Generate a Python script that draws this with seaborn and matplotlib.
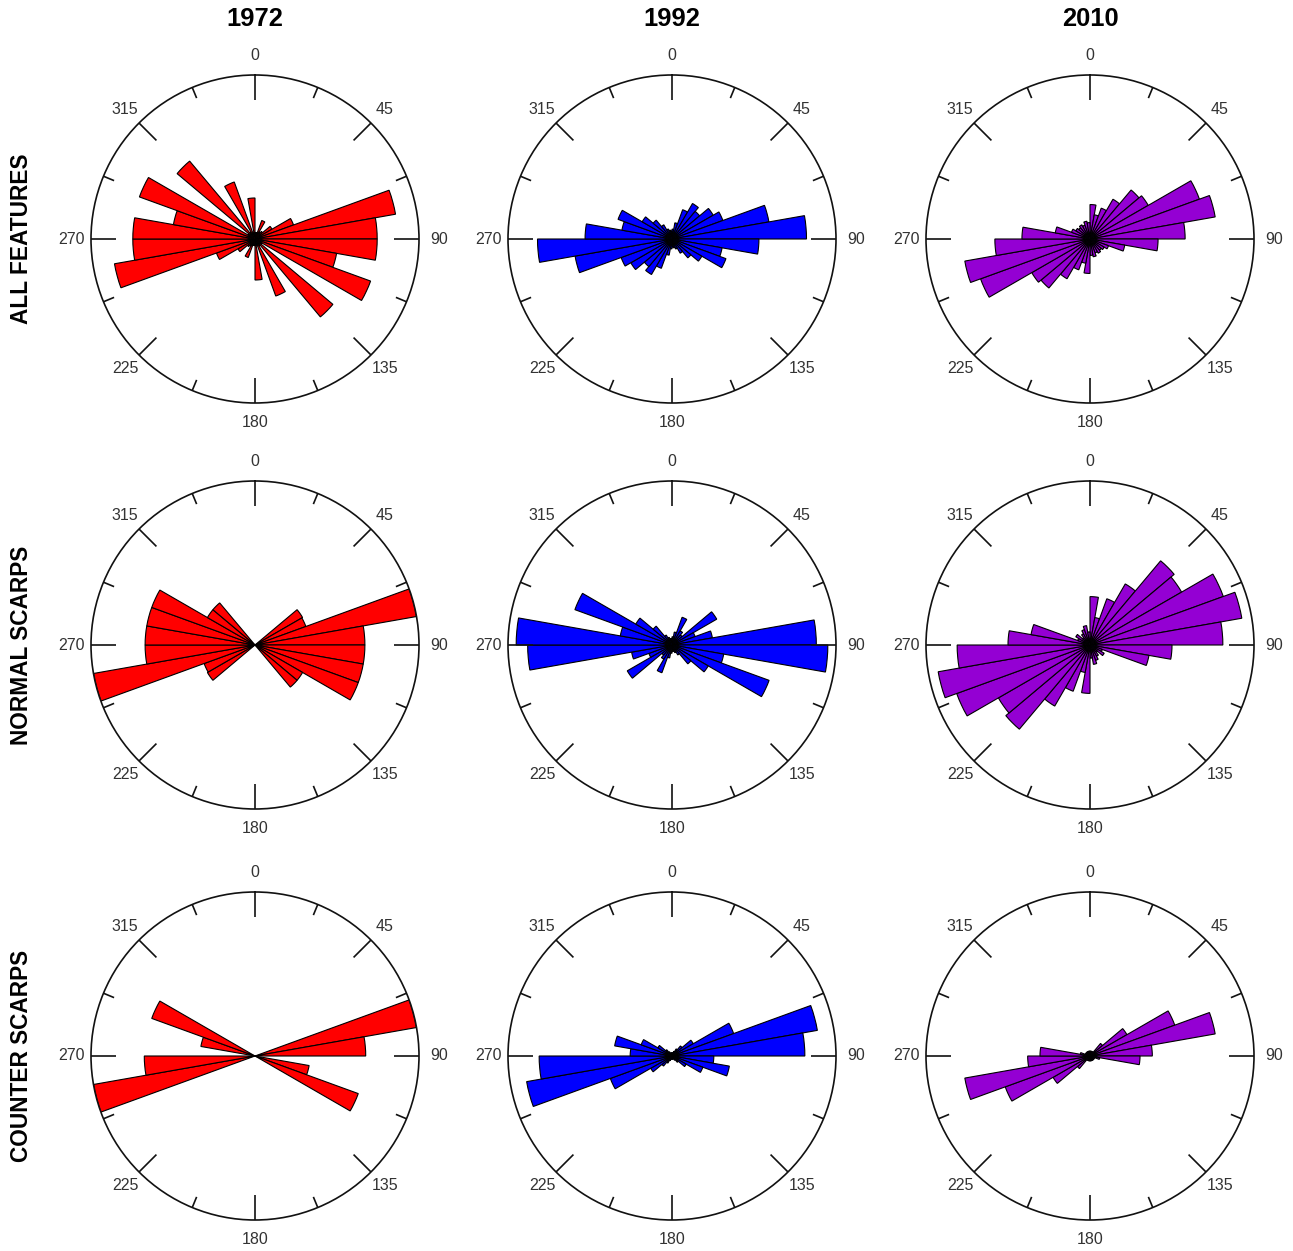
import numpy as np
import pandas as pd
import seaborn as sns
import matplotlib
matplotlib.use("Agg")
import matplotlib.pyplot as plt

years = ["1972", "1992", "2010"]
groups = ["ALL FEATURES", "NORMAL SCARPS", "COUNTER SCARPS"]
year_colors = ["#FF0000", "#0000FF", "#9400D3"]

# strike bins 0-10, 10-20 ... 170-180 deg, radius as fraction of the circle.
# the rose is bidirectional: each bin is drawn again at +180 deg
bin_starts = list(range(0, 180, 10))

all_1972 = [0.04, 0.04, 0.12, 0.05, 0.06, 0.12, 0.25, 0.87, 0.745,
            0.745, 0.505, 0.75, 0.05, 0.62, 0.05, 0.37, 0.04, 0.25]
all_1992 = [0.06, 0.10, 0.19, 0.25, 0.22, 0.29, 0.33, 0.60, 0.82,
            0.53, 0.31, 0.35, 0.21, 0.15, 0.10, 0.065, 0.055, 0.05]
all_2010 = [0.21, 0.15, 0.20, 0.28, 0.39, 0.41, 0.71, 0.775, 0.58,
            0.415, 0.215, 0.12, 0.10, 0.09, 0.10, 0.09, 0.11, 0.10]

normal_1972 = [0, 0, 0, 0, 0, 0.335, 0.33, 1.0, 0.67,
               0.67, 0.67, 0.67, 0.335, 0.335, 0, 0, 0, 0]
normal_1992 = [0.05, 0.08, 0.18, 0.10, 0.08, 0.315, 0.15, 0.25, 0.88,
               0.95, 0.32, 0.63, 0.255, 0.15, 0.07, 0.05, 0.04, 0.04]
normal_2010 = [0.295, 0.17, 0.30, 0.43, 0.67, 0.645, 0.865, 0.94, 0.81,
               0.50, 0.365, 0.08, 0.10, 0.06, 0.08, 0.10, 0.12, 0.08]

counter_1972 = [0, 0, 0, 0, 0, 0, 0, 1.0, 0.675,
                0, 0.335, 0.67, 0, 0, 0, 0, 0, 0]
counter_1992 = [0.02, 0.02, 0.03, 0.05, 0.08, 0.15, 0.40, 0.90, 0.81,
                0.255, 0.355, 0.20, 0.10, 0.05, 0.03, 0.02, 0.02, 0.02]
counter_2010 = [0.03, 0.03, 0.03, 0.03, 0.10, 0.26, 0.55, 0.775, 0.38,
                0.305, 0.06, 0.03, 0.03, 0.03, 0.03, 0.03, 0.03, 0.03]

panels = [[all_1972, all_1992, all_2010],
          [normal_1972, normal_1992, normal_2010],
          [counter_1972, counter_1992, counter_2010]]

label_angles = [0, 45, 90, 135, 180, 225, 270, 315]

sns.set_theme(style="white")
plt.rcParams["font.family"] = ["Liberation Sans", "DejaVu Sans"]

W, H = 1293, 1251
fig = plt.figure(figsize=(W / 100, H / 100), dpi=100)

col_x = [255, 672, 1090]
row_y = [239, 645, 1056]
R = 164

for i in range(3):
    for j in range(3):
        cx, cy = col_x[j], row_y[i]
        ax = fig.add_axes([(cx - R) / W, 1 - (cy + R) / H, 2 * R / W, 2 * R / H],
                          projection="polar")
        vals = panels[i][j]
        starts = bin_starts + [b + 180 for b in bin_starts]
        df = pd.DataFrame({"angle": np.deg2rad(np.array(starts) + 5.0),
                           "r": vals + vals})
        sns.barplot(data=df, x="angle", y="r", ax=ax, native_scale=True,
                    orient="x", color=year_colors[j], saturation=1, width=1,
                    edgecolor="black", linewidth=0.8, errorbar=None)
        ax.set_theta_zero_location("N")
        ax.set_theta_direction(-1)
        ax.set_ylim(0, 1)
        ax.set_xticks([])
        ax.set_yticks([])
        ax.grid(False)
        ax.set_xlabel("")
        ax.set_ylabel("")
        ax.spines["polar"].set_linewidth(1.2)
        ax.spines["polar"].set_color("#111111")

        # tick marks every 22.5 deg, longer at 45 deg steps
        for k in range(16):
            t = np.deg2rad(k * 22.5)
            L = 0.15 if k % 2 == 0 else 0.07
            ax.plot([t, t], [1 - L, 1], color="#111111", lw=1.2,
                    solid_capstyle="butt", clip_on=False)
        for a in label_angles:
            ax.text(np.deg2rad(a), 1.12, str(a), ha="center", va="center",
                    fontsize=11.5, color="#333333", clip_on=False)

for j in range(3):
    fig.text(col_x[j] / W, 1 - 19 / H, years[j], ha="center", va="center",
             fontsize=18.4, fontweight="bold", color="black")
for i in range(3):
    fig.text(22 / W, 1 - row_y[i] / H, groups[i], ha="center", va="center",
             rotation=90, fontsize=16.3, fontweight="bold", color="black")

fig.savefig("out.png", dpi=100, facecolor="white")
